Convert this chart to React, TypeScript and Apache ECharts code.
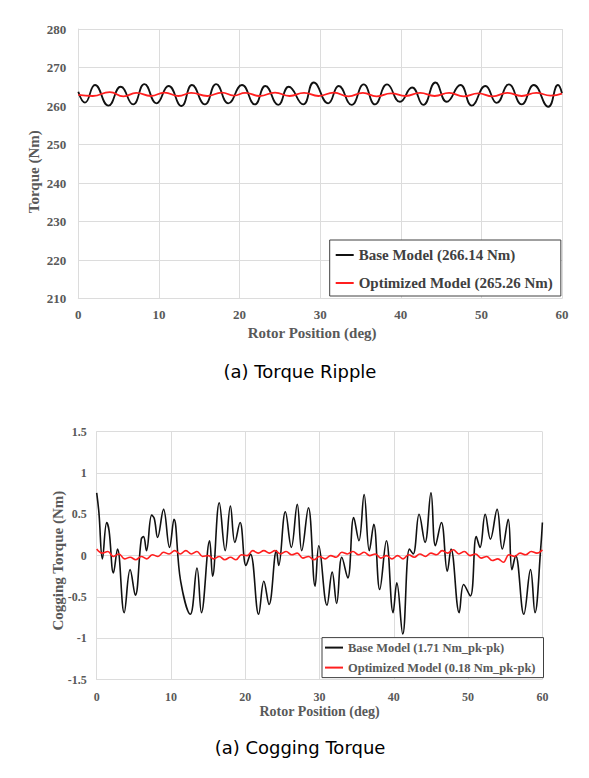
import React, { useEffect, useRef } from "react";
import * as echarts from "echarts";

// ---------- data ----------
const xTicks = [0, 10, 20, 30, 40, 50, 60];
const rippleTicks = [210, 220, 230, 240, 250, 260, 270, 280];
const coggingTicks = [-1.5, -1, -0.5, 0, 0.5, 1, 1.5];

const rippleNames = ["Base Model (266.14 Nm)", "Optimized Model (265.26 Nm)"];
const coggingNames = ["Base Model (1.71 Nm_pk-pk)", "Optimized Model (0.18 Nm_pk-pk)"];
const captions = ["(a) Torque Ripple", "(a) Cogging Torque"];
const axisTitles = ["Torque (Nm)", "Cogging Torque (Nm)", "Rotor Position (deg)"];

// Torque ripple, base model [deg, Nm]
const rippleBase: [number, number][] = [
  [0, 263.7], [0.83, 260.9], [2.07, 265.45], [3.73, 260.1], [5.26, 265.0], [6.8, 260.4],
  [8.2, 265.7], [9.7, 260.7], [11.2, 265.2], [12.8, 260.0], [14.1, 265.45], [15.7, 260.4],
  [17.1, 265.7], [18.6, 260.7], [20.3, 265.45], [21.9, 260.4], [23.2, 265.2], [24.8, 260.3],
  [26.1, 265.0], [27.9, 260.4], [29.2, 266.1], [31.0, 260.7], [32.3, 265.2], [33.9, 260.3],
  [35.4, 265.6], [36.8, 260.4], [38.3, 265.6], [39.9, 261.1], [41.4, 264.8], [42.8, 260.3],
  [44.3, 266.1], [45.7, 261.1], [47.4, 265.45], [48.8, 260.1], [50.5, 265.2], [51.9, 260.8],
  [53.4, 265.6], [55.0, 260.4], [56.5, 265.45], [58.3, 259.8], [59.5, 265.45], [60, 263.3],
];

// Torque ripple, optimized model [deg, Nm]
const rippleOpt: [number, number][] = [
  [0, 262.9], [1.8, 262.6], [3.9, 263.6], [5.6, 262.5], [7.2, 263.4], [9.0, 262.6],
  [10.7, 263.5], [12.4, 262.6], [14.0, 263.4], [16.0, 262.6], [17.8, 263.5], [19.3, 262.7],
  [20.7, 263.4], [22.5, 262.6], [24.4, 263.5], [26.2, 262.6], [28.0, 263.4], [29.8, 262.6],
  [31.7, 263.5], [33.5, 262.5], [35.3, 263.4], [37.0, 262.5], [38.8, 263.3], [40.6, 262.6],
  [42.4, 263.4], [44.2, 262.6], [46.0, 263.4], [47.8, 262.5], [49.6, 263.3], [51.4, 262.5],
  [53.2, 263.4], [55.0, 262.6], [56.8, 263.4], [58.6, 262.7], [60, 263.2],
];

// Cogging torque, base model [deg, Nm]
const coggingBase: [number, number][] = [
  [0, 0.76], [0.3, 0.52], [0.77, -0.04], [1.35, 0.4], [1.67, 0.3], [2.25, -0.21], [2.8, 0.08],
  [3.7, -0.69], [4.5, -0.17], [5.2, -0.48], [6.0, 0.2], [6.3, 0.23], [6.7, 0.06], [7.4, 0.49],
  [7.75, 0.45], [8.2, 0.22], [9.0, 0.56], [9.8, 0.1], [10.4, 0.44], [11.3, -0.31], [12.6, -0.71],
  [13.5, -0.15], [14.1, -0.69], [15.2, 0.18], [15.6, -0.25], [16.5, 0.64], [17.3, 0.06], [18.0, 0.6],
  [18.6, 0.16], [19.3, 0.4], [20.1, -0.12], [20.7, 0.02], [21.8, -0.71], [22.5, -0.31], [23.2, -0.59],
  [24.2, 0.06], [24.5, -0.12], [25.4, 0.53], [26.2, 0.1], [27.0, 0.62], [27.6, 0.06], [28.5, 0.58],
  [29.4, -0.37], [29.9, 0.12], [31.0, -0.6], [31.7, -0.2], [32.3, -0.58], [33.0, -0.02], [33.8, -0.27],
  [34.6, 0.46], [35.3, 0.18], [36.0, 0.74], [36.7, 0.06], [37.3, 0.38], [38.1, -0.41], [39.0, 0.18],
  [39.9, -0.69], [40.4, -0.33], [41.2, -0.95], [42.1, 0.08], [42.6, 0.02], [43.4, 0.5], [44.2, 0.16],
  [45.0, 0.76], [45.6, 0.12], [46.4, 0.4], [47.2, -0.19], [47.7, 0.08], [48.8, -0.69], [49.4, -0.35],
  [50.3, -0.49], [51.1, 0.23], [51.6, 0.1], [52.3, 0.5], [53.0, 0.2], [53.9, 0.56], [54.6, 0.08],
  [55.4, 0.44], [55.9, -0.17], [56.4, 0.0], [57.5, -0.71], [58.4, -0.17], [59.0, -0.69], [59.8, 0.12],
  [60, 0.4],
];

// Cogging torque, optimized model [deg, Nm]
const coggingOpt: [number, number][] = [
  [0, 0.08], [0.75, 0.03], [1.5, 0.05], [2.25, -0.01], [3.0, 0.02], [3.75, -0.04], [4.5, -0.02],
  [5.25, -0.05], [6.0, -0.01], [6.75, -0.04], [7.5, 0.01], [8.25, -0.01], [9.0, 0.04], [9.75, 0.02],
  [10.5, 0.06], [11.25, 0.02], [12.0, 0.06], [12.75, 0.02], [13.5, 0.05], [14.25, -0.01], [15.0, 0.0],
  [15.75, -0.04], [16.5, -0.01], [17.25, -0.05], [18.0, -0.02], [18.75, -0.05], [19.5, 0.01],
  [20.25, 0.0], [21.0, 0.06], [21.75, 0.03], [22.5, 0.06], [23.25, 0.03], [24.0, 0.06], [24.75, 0.02],
  [25.5, 0.05], [26.25, 0.01], [27.0, 0.03], [27.75, -0.03], [28.5, -0.01], [29.25, -0.05], [30.0, -0.01],
  [30.75, -0.04], [31.5, 0.0], [32.25, -0.02], [33.0, 0.04], [33.75, 0.02], [34.5, 0.05], [35.25, 0.01],
  [36.0, 0.04], [36.75, 0.0], [37.5, 0.02], [38.25, -0.03], [39.0, 0.0], [39.75, -0.04], [40.5, 0.0],
  [41.25, -0.04], [42.0, 0.01], [42.75, -0.02], [43.5, 0.02], [44.25, -0.01], [45.0, 0.03], [45.75, 0.01],
  [46.5, 0.06], [47.25, 0.03], [48.0, 0.07], [48.75, 0.02], [49.5, 0.05], [50.25, 0.0], [51.0, 0.02],
  [51.75, -0.03], [52.5, -0.01], [53.25, -0.06], [54.0, -0.04], [54.75, -0.08], [55.5, 0.01],
  [56.25, -0.01], [57.0, 0.03], [57.75, 0.01], [58.5, 0.05], [59.25, 0.03], [60, 0.07],
];

// ---------- styles ----------
const SERIF = "'Liberation Serif', 'Times New Roman', serif";
const CAPTION_FONT = "'DejaVu Sans', 'Noto Sans', sans-serif";
const GRID_COLOR = "#dcdcdc";
const LABEL_COLOR = "#595959";
const BLACK = "#111111";
const RED = "#ff1f1f";

export default function App() {
  const ref = useRef<HTMLDivElement>(null);

  useEffect(() => {
    if (!ref.current) return;
    const chart = echarts.init(ref.current, undefined, { renderer: "svg" });

    const xAxisBase = (gridIndex: number, fontSize: number, margin: number, nameGap: number, nameSize: number, namePad: number[]) => ({
      type: "value" as const,
      gridIndex,
      min: xTicks[0],
      max: xTicks[xTicks.length - 1],
      interval: 10,
      name: axisTitles[2],
      nameLocation: "middle" as const,
      nameGap,
      nameMoveOverlap: false,
      nameTextStyle: { fontFamily: SERIF, fontWeight: "bold", fontSize: nameSize, color: LABEL_COLOR, padding: namePad },
      axisLine: { show: true, lineStyle: { color: GRID_COLOR, width: 1 } },
      axisTick: { show: false },
      axisLabel: { fontFamily: SERIF, fontWeight: "bold", fontSize, color: LABEL_COLOR, margin },
      splitLine: { show: true, lineStyle: { color: GRID_COLOR, width: 1 } },
    });

    const option: any = {
      animation: false,
      backgroundColor: "#ffffff",
      grid: [
        { left: 78.3, top: 29, width: 483.7, height: 269.5, containLabel: false },
        { left: 96.7, top: 431.7, width: 445.7, height: 247.8, containLabel: false },
      ],
      xAxis: [
        xAxisBase(0, 13, 9, 27, 15, [0, 16, 0, 0]),
        xAxisBase(1, 12, 11, 25, 14, [0, 0, 0, 0]),
      ],
      yAxis: [
        {
          type: "value",
          gridIndex: 0,
          min: rippleTicks[0],
          max: rippleTicks[rippleTicks.length - 1],
          interval: 10,
          name: axisTitles[0],
          nameLocation: "middle",
          nameGap: 37,
          nameMoveOverlap: false,
          nameTextStyle: { fontFamily: SERIF, fontWeight: "bold", fontSize: 15, color: LABEL_COLOR, padding: [0, 16, 0, 0] },
          axisLine: { show: true, lineStyle: { color: GRID_COLOR, width: 1 } },
          axisTick: { show: false },
          axisLabel: { fontFamily: SERIF, fontWeight: "bold", fontSize: 13, color: LABEL_COLOR, margin: 12 },
          splitLine: { show: true, lineStyle: { color: GRID_COLOR, width: 1 } },
        },
        {
          type: "value",
          gridIndex: 1,
          min: coggingTicks[0],
          max: coggingTicks[coggingTicks.length - 1],
          interval: 0.5,
          name: axisTitles[1],
          nameLocation: "middle",
          nameGap: 31,
          nameMoveOverlap: false,
          nameTextStyle: { fontFamily: SERIF, fontWeight: "bold", fontSize: 15, color: LABEL_COLOR, padding: [0, 10, 0, 0] },
          axisLine: { show: true, lineStyle: { color: GRID_COLOR, width: 1 } },
          axisTick: { show: false },
          axisLabel: { fontFamily: SERIF, fontWeight: "bold", fontSize: 12, color: LABEL_COLOR, margin: 10 },
          splitLine: { show: true, lineStyle: { color: GRID_COLOR, width: 1 } },
        },
      ],
      legend: [
        {
          data: rippleNames,
          orient: "vertical",
          left: 329.7,
          top: 240,
          padding: [6, 8, 4, 6],
          itemGap: 10,
          itemWidth: 18,
          itemHeight: 2,
          icon: "rect",
          selectedMode: false,
          backgroundColor: "#ffffff",
          borderColor: "#404040",
          borderWidth: 1,
          textStyle: { fontFamily: SERIF, fontWeight: "bold", fontSize: 15, color: "#404040", lineHeight: 18 },
        },
        {
          data: coggingNames,
          orient: "vertical",
          left: 322,
          top: 637.6,
          padding: [3, 8, 3, 3],
          itemGap: 6,
          itemWidth: 18,
          itemHeight: 2,
          icon: "rect",
          selectedMode: false,
          backgroundColor: "#ffffff",
          borderColor: "#404040",
          borderWidth: 1,
          textStyle: { fontFamily: SERIF, fontWeight: "bold", fontSize: 12.5, color: "#595959", lineHeight: 14 },
        },
      ],
      series: [
        {
          name: rippleNames[0], type: "line", xAxisIndex: 0, yAxisIndex: 0, data: rippleBase,
          symbol: "none", smooth: 0.5, lineStyle: { color: BLACK, width: 1.8 }, itemStyle: { color: BLACK }, z: 3,
        },
        {
          name: rippleNames[1], type: "line", xAxisIndex: 0, yAxisIndex: 0, data: rippleOpt,
          symbol: "none", smooth: 0.5, lineStyle: { color: RED, width: 1.8 }, itemStyle: { color: RED }, z: 4,
        },
        {
          name: coggingNames[0], type: "line", xAxisIndex: 1, yAxisIndex: 1, data: coggingBase,
          symbol: "none", smooth: 0.4, lineStyle: { color: BLACK, width: 1.6 }, itemStyle: { color: BLACK }, z: 3,
        },
        {
          name: coggingNames[1], type: "line", xAxisIndex: 1, yAxisIndex: 1, data: coggingOpt,
          symbol: "none", smooth: 0.4, lineStyle: { color: RED, width: 1.6 }, itemStyle: { color: RED }, z: 4,
        },
      ],
      graphic: [
        {
          type: "text", x: 300, y: 371,
          style: { text: captions[0], fontFamily: CAPTION_FONT, fontSize: 18, fill: "#000000", align: "center", verticalAlign: "middle" },
        },
        {
          type: "text", x: 300, y: 747.5,
          style: { text: captions[1], fontFamily: CAPTION_FONT, fontSize: 18, fill: "#000000", align: "center", verticalAlign: "middle" },
        },
      ],
    };

    chart.setOption(option);
    return () => chart.dispose();
  }, []);

  return (
    <div
      ref={ref}
      style={{ position: "absolute", left: 0, top: 0, width: 589, height: 778, background: "#ffffff" }}
    />
  );
}
